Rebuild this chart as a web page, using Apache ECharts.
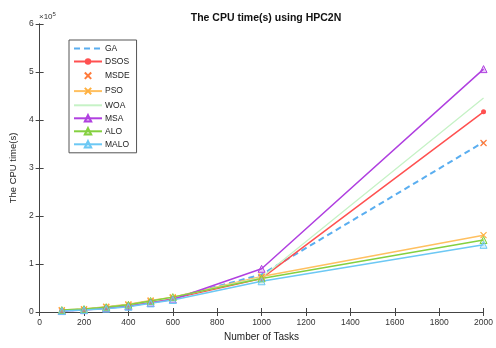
<!DOCTYPE html>
<html><head><meta charset="utf-8">
<script src="https://cdn.jsdelivr.net/npm/echarts@6/dist/echarts.min.js"></script>
<style>html,body{margin:0;padding:0;background:#fff}#c{width:496px;height:348px}</style>
</head><body><div id="c"></div>
<script>
var tasks = [100, 200, 300, 400, 500, 600, 1000, 2000];
var GA   = [3000, 5000, 10000, 15000, 22000, 29000, 78000, 354000];
var DSOS = [3000, 5000, 9000, 14000, 21000, 28000, 70000, 417000];
var MSDE = [3000, 5000, 10000, 15000, 22000, 29000, 72000, 352000];
var PSO  = [4000, 6000, 11000, 16000, 24000, 31000, 74000, 160000];
var WOA  = [3000, 5000, 10000, 15000, 22000, 30000, 72000, 446000];
var MSA  = [2000, 4000, 8000, 12000, 19000, 26000, 90000, 506000];
var ALO  = [4000, 6000, 10000, 15000, 23000, 31000, 70000, 150000];
var MALO = [2000, 4000, 7000, 11000, 18000, 25000, 64000, 140000];
var xTicks = [0, 200, 400, 600, 800, 1000, 1200, 1400, 1600, 1800, 2000];
var yTicks = [0, 1, 2, 3, 4, 5, 6];

function pairs(arr){ return tasks.map(function(t,i){ return [t, arr[i]]; }); }
var xPath = 'path://M0,0L10,10M10,0L0,10';
var blankPath = 'path://M0,0L1,0L1,1Z';
var font = 'Liberation Sans, Arial, sans-serif';

function ser(name, data, color, opts){
  var s = {
    name: name, type: 'line', data: pairs(data), xAxisIndex: 0, yAxisIndex: 0,
    color: color, lineStyle: {color: color, width: 1.5}, itemStyle: {color: color},
    symbol: 'none', symbolSize: 6, animation: false, z: 3
  };
  for (var k in opts) s[k] = opts[k];
  return s;
}
var series = [
  ser('GA', GA, '#5aaef0', {lineStyle: {color: '#5aaef0', width: 2, type: [6, 4]},
      symbol: blankPath, showSymbol: false, itemStyle: {color: '#5aaef0', opacity: 0}}),
  ser('DSOS', DSOS, '#ff5050', {symbol: 'circle', symbolSize: 5}),
  ser('MSDE', MSDE, '#ff7a3a', {lineStyle: {width: 0, opacity: 0}, symbol: xPath, symbolSize: 6,
      itemStyle: {color: 'none', borderColor: '#ff7a3a', borderWidth: 1.2}}),
  ser('PSO', PSO, '#ffc060', {symbol: xPath, symbolSize: 6,
      itemStyle: {color: 'none', borderColor: '#ffb040', borderWidth: 1.2}}),
  ser('WOA', WOA, '#c6f2c6', {lineStyle: {color: '#c6f2c6', width: 1.3},
      symbol: blankPath, showSymbol: false, itemStyle: {color: '#c6f2c6', opacity: 0}}),
  ser('MSA', MSA, '#b040e0', {symbol: 'triangle', symbolSize: 7,
      itemStyle: {color: 'rgba(176,64,224,0.25)', borderColor: '#b040e0', borderWidth: 1}}),
  ser('ALO', ALO, '#84d040', {symbol: 'triangle', symbolSize: 7,
      itemStyle: {color: 'rgba(132,208,64,0.25)', borderColor: '#84d040', borderWidth: 1}}),
  ser('MALO', MALO, '#6cc8f4', {symbol: 'triangle', symbolSize: 7,
      itemStyle: {color: 'rgba(108,200,244,0.25)', borderColor: '#6cc8f4', borderWidth: 1}})
];

var axisLine = {show: true, lineStyle: {color: '#444', width: 1}};
var axisTick = {show: true, inside: true, length: 4, lineStyle: {color: '#444'}};
var option = {
  animation: false,
  backgroundColor: '#fff',
  textStyle: {fontFamily: font},
  title: {text: 'The CPU time(s) using HPC2N', left: 261, top: 8, textAlign: 'center',
    textStyle: {fontSize: 10.5, fontWeight: 'bold', color: '#111', fontFamily: font}},
  grid: {left: 37, right: 9, top: 24, bottom: 36, containLabel: false},
  legend: {
    orient: 'vertical', left: 69, top: 40, itemGap: 4, itemWidth: 28, itemHeight: 8,
    backgroundColor: '#fff', borderColor: '#555', borderWidth: 1, padding: [4, 7, 4, 4],
    textStyle: {fontSize: 8.5, color: '#222', fontFamily: font, padding: [0, 0, 0, -2]},
    data: ['GA', 'DSOS', 'MSDE', 'PSO', 'WOA', 'MSA', 'ALO', 'MALO']
  },
  xAxis: [
    {type: 'value', min: 0, max: 2000, interval: 200, position: 'bottom',
     name: 'Number of Tasks', nameLocation: 'middle', nameGap: 14,
     nameTextStyle: {fontSize: 10, color: '#222', fontFamily: font},
     axisLine: axisLine, axisTick: axisTick, splitLine: {show: false},
     axisLabel: {fontSize: 8.5, color: '#333', margin: 6,
       formatter: function(v){ return String(xTicks[Math.round(v / 200)]); }}},
    {type: 'value', min: 0, max: 2000, interval: 200, position: 'top',
     axisLine: axisLine, axisTick: axisTick, splitLine: {show: false}, axisLabel: {show: false}}
  ],
  yAxis: [
    {type: 'value', min: 0, max: 600000, interval: 100000, position: 'left',
     name: 'The CPU time(s)', nameLocation: 'middle', nameGap: 18, nameRotate: 90,
     nameTextStyle: {fontSize: 9.5, color: '#222', fontFamily: font},
     axisLine: axisLine, axisTick: axisTick, splitLine: {show: false},
     axisLabel: {fontSize: 8.5, color: '#333', margin: 6,
       formatter: function(v){ return String(yTicks[Math.round(v / 100000)]); }}},
    {type: 'value', min: 0, max: 600000, interval: 100000, position: 'right',
     axisLine: axisLine, axisTick: axisTick, splitLine: {show: false}, axisLabel: {show: false}}
  ],
  graphic: [{
    type: 'text', left: 39, top: 11,
    style: {text: '×10{s|5}', fontSize: 8, fill: '#333', fontFamily: font,
      rich: {s: {fontSize: 6, verticalAlign: 'top', padding: [0, 0, 5, 0], fill: '#333'}}}
  }],
  series: series
};
var chart = echarts.init(document.getElementById('c'), null, {renderer: 'canvas'});
chart.setOption(option);
</script></body></html>
